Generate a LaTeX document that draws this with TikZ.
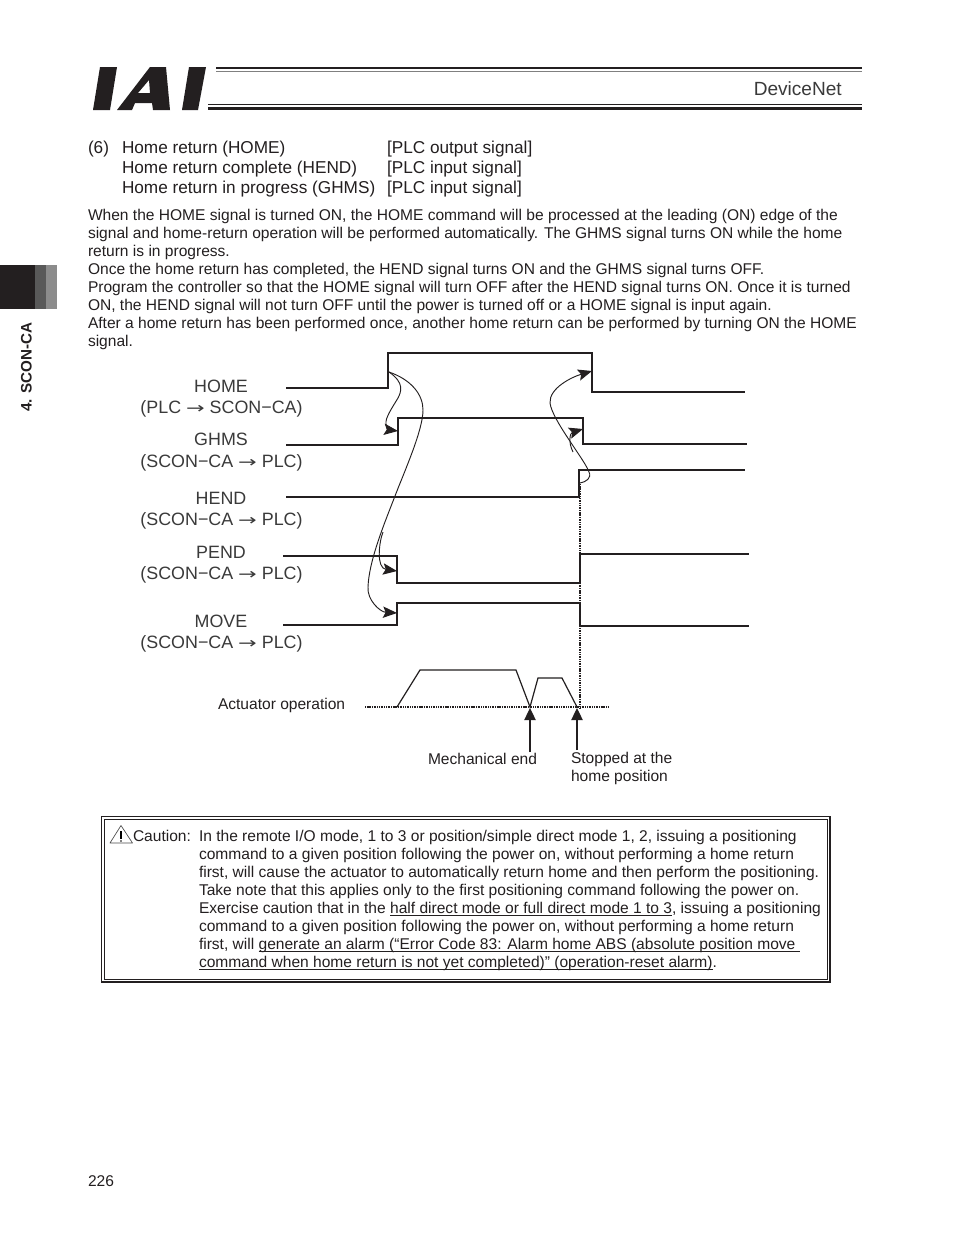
\documentclass[tikz,border=0pt]{standalone}
\usepackage{fontspec}
\setmainfont{Liberation Sans}
\newfontfamily\arwfont{DejaVu Sans}
\usetikzlibrary{arrows.meta}
\definecolor{ink}{HTML}{231F20}
\definecolor{labelink}{HTML}{3A3A3A}
\newcommand\ulx[1]{\setbox0\hbox{#1}\rlap{\rule[-2.1pt]{\wd0}{0.6pt}}\box0 }
\newcommand\arw{\scalebox{1.45}[1]{\arwfont\fontsize{11.5}{14}\selectfont →}}
\tikzset{
  x=0.75pt,y=-0.75pt,
  txt/.style={anchor=base west,inner sep=0pt,outer sep=0pt,font=\fontsize{11.67}{14}\selectfont,text=ink},
  head/.style={anchor=base west,inner sep=0pt,outer sep=0pt,font=\fontsize{12.9}{14}\selectfont,text=ink},
  sig/.style={anchor=base,inner sep=0pt,outer sep=0pt,font=\fontsize{13.4}{14}\selectfont,text=labelink},
  wave/.style={draw=ink,line width=1.05pt,line join=miter},
  cause/.style={draw=ink,line width=0.7pt,-{Stealth[length=10.5pt,width=8.5pt,inset=2pt]}},
  dots/.style={draw=ink,line width=0.9pt,dash pattern=on 0.8pt off 0.5pt},
  mark arrow/.style={draw=ink,line width=0.9pt,-{Triangle[length=9pt,width=8.5pt]}}
}
\begin{document}
\begin{tikzpicture}
\useasboundingbox (0,0) rectangle (954,1235);
\fill[white] (0,0) rectangle (954,1235);
% logo
\fill[ink] (100,67)--(117,67)--(110,110)--(93,110)--cycle;
\fill[ink,even odd rule] (150,67)--(166,67)--(170,110)--(153,110)--(152,103)--(135,103)--(132,110)--(117,110)--cycle
  (138,93)--(150,93)--(149,80)--cycle;
\fill[ink] (189,67)--(206,67)--(198,110)--(182,110)--cycle;
\draw[ink,line width=1.4pt] (216,67.8)--(862,67.8);
\draw[black!50,line width=1.2pt] (216,71.5)--(862,71.5);
\draw[ink,line width=0.8pt] (208,104.5)--(862,104.5);
\draw[ink,line width=2pt] (208,108.5)--(862,108.5);
\node[anchor=base east,inner sep=0pt,font=\fontsize{14.3}{14}\selectfont,text=labelink] (brand) at (842,95) {DeviceNet};
% side tab
\fill[ink] (0,265) rectangle (35,309);
\fill[black!65] (35,265) rectangle (46,309);
\fill[black!45] (46,265) rectangle (57,309);
\node[rotate=90,anchor=base west,inner sep=0pt,font=\bfseries\fontsize{11.4}{12}\selectfont,text=ink] (tab) at (31.5,412) {4. SCON-CA};
% heading
\node[head] (h0) at (88,153) {(6)};
\node[head] (h1) at (122,153) {Home return (HOME)};
\node[head] (h2) at (122,173) {Home return complete (HEND)};
\node[head] (h3) at (122,193) {Home return in progress (GHMS)};
\node[head] (h1r) at (387,153) {[PLC output signal]};
\node[head] (h2r) at (387,173) {[PLC input signal]};
\node[head] (h3r) at (387,193) {[PLC input signal]};
% body
\node[txt] (b1) at (88,220) {When the HOME signal is turned ON, the HOME command will be processed at the leading (ON) edge of the};
\node[txt] (b2) at (88,238) {signal and home-return operation will be performed automatically. The GHMS signal turns ON while the home};
\node[txt] (b3) at (88,256) {return is in progress.};
\node[txt] (b4) at (88,274) {Once the home return has completed, the HEND signal turns ON and the GHMS signal turns OFF.};
\node[txt] (b5) at (88,292) {Program the controller so that the HOME signal will turn OFF after the HEND signal turns ON. Once it is turned};
\node[txt] (b6) at (88,310) {ON, the HEND signal will not turn OFF until the power is turned off or a HOME signal is input again.};
\node[txt] (b7) at (88,328) {After a home return has been performed once, another home return can be performed by turning ON the HOME};
\node[txt] (b8) at (88,346) {signal.};
% signal labels
\node[sig] (l1a) at (221,392) {HOME};
\node[sig] (l1b) at (221.5,413) {(PLC \arw\ SCON−CA)};
\node[sig] (l2a) at (221,445) {GHMS};
\node[sig] (l2b) at (221.5,467) {(SCON−CA \arw\ PLC)};
\node[sig] (l3a) at (221,504) {HEND};
\node[sig] (l3b) at (221.5,525) {(SCON−CA \arw\ PLC)};
\node[sig] (l4a) at (221,558) {PEND};
\node[sig] (l4b) at (221.5,579) {(SCON−CA \arw\ PLC)};
\node[sig] (l5a) at (221,627) {MOVE};
\node[sig] (l5b) at (221.5,648) {(SCON−CA \arw\ PLC)};
% waveforms
\path[wave] (286,388)--(388,388)--(388,353)--(592,353)--(592,392)--(745,392);
\path[wave] (286,445)--(398,445)--(398,418)--(583,418)--(583,444)--(747,444);
\path[wave] (286,497)--(579,497)--(579,470)--(745,470);
\path[wave] (283,556)--(397,556)--(397,583)--(580,583)--(580,554)--(749,554);
\path[wave] (283,625)--(397,625)--(397,603)--(580,603)--(580,626)--(749,626);
\path[dots] (580,484)--(580,708);
% cause arrows
\coordinate (homeup) at (389,372);
\coordinate (ghmsup) at (398,431);
\coordinate (pendbr) at (383,532);
\coordinate (penddn) at (397,571);
\coordinate (moveup) at (397,613);
\coordinate (hendup) at (580,483);
\coordinate (homedn) at (592,371);
\coordinate (ghmsbr) at (573,452);
\coordinate (ghmsdn) at (583,429);
\draw[cause] (homeup) .. controls (405,383) and (401,392) .. (398,398) .. controls (392,408) and (385,418) .. (386,424) .. controls (386,428) and (390,430) .. (ghmsup);
\draw[cause] (homeup) .. controls (412,380) and (423,395) .. (423,410) .. controls (423,430) and (405,470) .. (395,496) .. controls (385,522) and (369,560) .. (368,587) .. controls (367,600) and (380,612) .. (moveup);
\draw[cause] (pendbr) .. controls (379,542) and (376,568) .. (penddn);
\draw[cause] (hendup) .. controls (586,482) and (592,478) .. (589,472) .. controls (585,460) and (552,420) .. (550,403) .. controls (549,388) and (572,377) .. (homedn);
\draw[cause] (ghmsbr) .. controls (568,442) and (570,433) .. (ghmsdn);
% actuator operation
\path[dots] (365,707)--(608,707);
\draw[ink,line width=0.9pt] (397,707)--(420,670)--(516,670)--(530,707)--(538,678)--(562,678)--(577,707);
\coordinate (mechfoot) at (530,752);
\coordinate (mechtip) at (530,708);
\coordinate (stopfoot) at (577,750);
\coordinate (stoptip) at (577,708);
\draw[mark arrow] (mechfoot)--(mechtip);
\draw[mark arrow] (stopfoot)--(stoptip);
\node[txt] (act) at (218,709) {Actuator operation};
\node[txt] (mech) at (428,764) {Mechanical end};
\node[txt] (stop1) at (571,763) {Stopped at the};
\node[txt] (stop2) at (571,781) {home position};
% caution box
\draw[ink,line width=0.9pt] (101.5,816.5) rectangle (830,982);
\draw[ink,line width=0.6pt] (104,819) rectangle (827.5,979.5);
\draw[black!70,line width=0.5pt,line join=round] (121,825.5)--(132.5,843)--(110,843)--cycle;
\draw[black,line width=1pt] (121,831)--(121,838.5);
\fill[black] (121,841) circle[radius=0.9];
\node[txt] (cau) at (133,841) {Caution:};
\node[txt] (c1) at (199,841) {In the remote I/O mode, 1 to 3 or position/simple direct mode 1, 2, issuing a positioning};
\node[txt] (c2) at (199,859) {command to a given position following the power on, without performing a home return};
\node[txt] (c3) at (199,877) {first, will cause the actuator to automatically return home and then perform the positioning.};
\node[txt] (c4) at (199,895) {Take note that this applies only to the first positioning command following the power on.};
\node[txt] (c5) at (199,913) {Exercise caution that in the \ulx{half direct mode or full direct mode 1 to 3}\unskip, issuing a positioning};
\node[txt] (c6) at (199,931) {command to a given position following the power on, without performing a home return};
\node[txt] (c7) at (199,949) {first, will \ulx{generate an alarm (“Error Code 83: Alarm home ABS (absolute position move\ }};
\node[txt] (c8) at (199,967) {\ulx{command when home return is not yet completed)” (operation-reset alarm)}\unskip.};
\node[txt] (pg) at (88,1186) {226};
\end{tikzpicture}
\end{document}
